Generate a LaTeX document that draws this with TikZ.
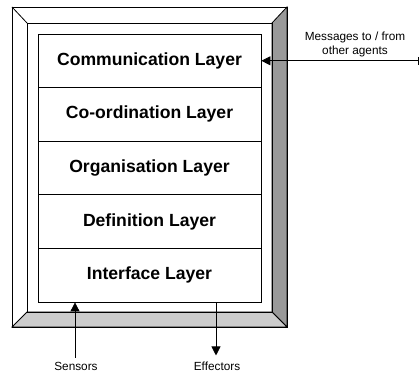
\documentclass[tikz,border=0pt]{standalone}
\usepackage{fontspec}
\setmainfont{Liberation Sans}
\usetikzlibrary{arrows.meta}
\definecolor{bevelright}{HTML}{999999}
\definecolor{bevelbottom}{HTML}{CCCCCC}
\begin{document}
\begin{tikzpicture}[x=1pt,y=1pt,
  layerbox/.style={draw, line width=0.8pt, minimum width=223pt, minimum height=53.6pt, inner sep=0pt, font=\fontsize{17.6}{20}\selectfont\bfseries},
  lbl/.style={font=\fontsize{11.8}{14}\selectfont, align=center, inner sep=2pt},
  conn/.style={line width=0.8pt, -{Triangle[length=9pt,width=9pt]}},
  framel/.style={draw, line width=0.8pt}]
\useasboundingbox (0,0) rectangle (420,374);
% frame
\fill[white] (12,47) rectangle (287,367);
\filldraw[framel, fill=bevelright] (287,367) -- (287,47) -- (272,62) -- (272,351) -- cycle;
\filldraw[framel, fill=bevelbottom] (12,47) -- (287,47) -- (272,62) -- (27,62) -- cycle;
\draw[framel] (12,47) rectangle (287,367);
\draw[framel] (27,62) rectangle (272,351);
\draw[framel] (12,367) -- (27,351);
% layers
\node[layerbox] (comm) at (149.5,313.2) {Communication Layer};
\node[layerbox] (coord) at (149.5,259.6) {Co-ordination Layer};
\node[layerbox] (org) at (149.5,206) {Organisation Layer};
\node[layerbox] (def) at (149.5,152.4) {Definition Layer};
\node[layerbox] (iface) at (149.5,98.8) {Interface Layer};
% messages
\coordinate (ext) at (419,313.2);
\draw[line width=0.8pt, {Triangle[length=9pt,width=9pt]}-{Bar[width=8pt]}] (comm.east) -- (ext);
\node[lbl] (msg) at (355,329.5) {Messages to / from\\other agents};
% sensors / effectors
\node[lbl] (sens) at (76,8) {Sensors};
\node[lbl] (eff) at (217,8) {Effectors};
\draw[conn] ([xshift=-1pt,yshift=2pt]sens.north) -- ([xshift=-1pt]sens.north |- iface.south);
\draw[conn] ([xshift=-1pt]eff.north |- iface.south) -- ([xshift=-1pt,yshift=4pt]eff.north);
\end{tikzpicture}
\end{document}
